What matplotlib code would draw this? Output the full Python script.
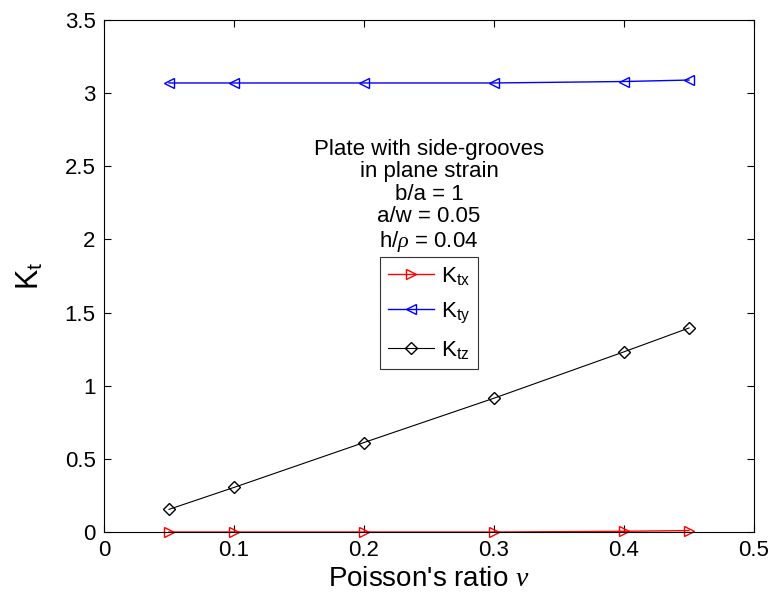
import matplotlib
matplotlib.use('Agg')
import matplotlib.pyplot as plt

plt.rcParams['font.family'] = ['Liberation Sans', 'DejaVu Sans']
plt.rcParams['mathtext.fontset'] = 'custom'
plt.rcParams['mathtext.rm'] = 'Liberation Sans'
plt.rcParams['mathtext.it'] = 'Liberation Serif:italic'

# Poisson's ratio values
nu = [0.05, 0.1, 0.2, 0.3, 0.4, 0.45]
ktx = [0.0, 0.0, 0.0, 0.0, 0.005, 0.01]
kty = [3.07, 3.07, 3.07, 3.07, 3.08, 3.09]
ktz = [0.155, 0.305, 0.612, 0.915, 1.232, 1.395]

fig = plt.figure(figsize=(7.72, 6.03), dpi=100)
ax = fig.add_axes([0.1347, 0.1177, 0.842, 0.849])

ax.plot(nu, ktx, color='red', marker='>', mfc='none', ms=7, lw=1, clip_on=False, label=r'K$_{\mathrm{tx}}$')
ax.plot(nu, kty, color='blue', marker='<', mfc='none', ms=7, lw=1, clip_on=False, label=r'K$_{\mathrm{ty}}$')
ax.plot(nu, ktz, color='black', marker='D', mfc='none', ms=6, lw=0.8, clip_on=False, label=r'K$_{\mathrm{tz}}$')

ax.set_xlim(0, 0.5)
ax.set_ylim(0, 3.5)
ax.set_xticks([0, 0.1, 0.2, 0.3, 0.4, 0.5])
ax.set_xticklabels(['0', '0.1', '0.2', '0.3', '0.4', '0.5'])
ax.set_yticks([0, 0.5, 1, 1.5, 2, 2.5, 3, 3.5])
ax.set_yticklabels(['0', '0.5', '1', '1.5', '2', '2.5', '3', '3.5'])
ax.tick_params(direction='in', top=True, right=True, labelsize=16, length=5, width=0.8, pad=6)
for s in ax.spines.values():
    s.set_linewidth(0.8)

ax.set_xlabel(r"Poisson's ratio $\it{\nu}$", fontsize=20, labelpad=3)
ax.set_ylabel(r'K$_{\mathrm{t}}$', fontsize=22, labelpad=14)

ax.text(0.25, 2.69, "Plate with side-grooves\nin plane strain\nb/a = 1\na/w = 0.05\n" + r"h/$\it{\rho}$ = 0.04",
        ha='center', va='top', fontsize=16, linespacing=1.1)

leg = ax.legend(loc='center', bbox_to_anchor=(0.50, 0.428), fontsize=16, frameon=True,
                fancybox=False, edgecolor='black', handlelength=2.1, handletextpad=0.3,
                borderpad=0.35, labelspacing=0.62, borderaxespad=0)
leg.get_frame().set_linewidth(0.8)

fig.savefig('out.png', dpi=100)
